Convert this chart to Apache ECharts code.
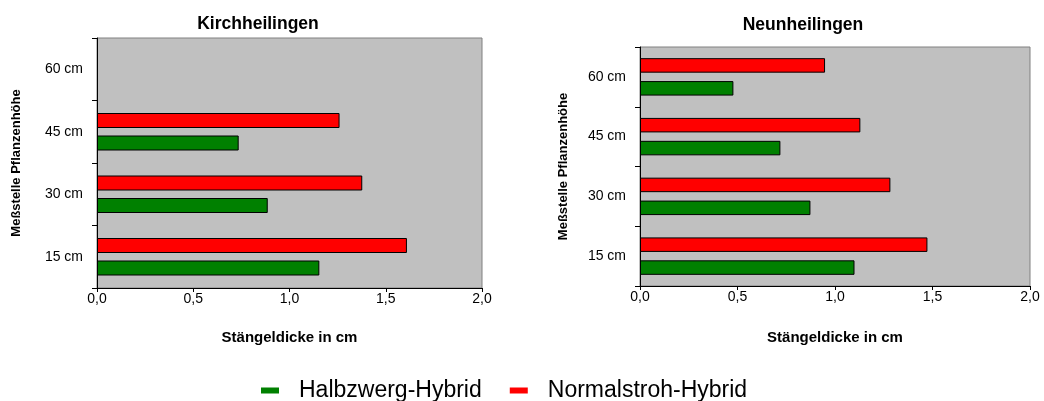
<!DOCTYPE html>
<html><head><meta charset="utf-8">
<script src="https://cdn.jsdelivr.net/npm/echarts@6/dist/echarts.min.js"></script>
<style>html,body{margin:0;padding:0;background:#fff}#c{width:1044px;height:401px}</style>
</head><body><div id="c"></div>
<script>
const categories = ['15 cm', '30 cm', '45 cm', '60 cm'];
const kirchHalb = [1.155, 0.887, 0.736, null];
const kirchNormal = [1.61, 1.378, 1.26, null];
const neunHalb = [1.10, 0.874, 0.72, 0.479];
const neunNormal = [1.474, 1.284, 1.13, 0.949];
const seriesNames = ['Halbzwerg-Hybrid', 'Normalstroh-Hybrid'];
const titles = ['Kirchheilingen', 'Neunheilingen'];
const xName = 'Stängeldicke in cm';
const yName = 'Meßstelle Pflanzenhöhe';

const FONT = '"Liberation Sans", Arial, sans-serif';
const GREEN = '#008000', RED = '#FF0000';
const chart = echarts.init(document.getElementById('c'));

function xAx(gi, gap) {
  return {
    type: 'value', gridIndex: gi, min: 0, max: 2, interval: 0.5,
    splitLine: { show: false },
    axisLine: { show: true, lineStyle: { color: '#000', width: 1 } },
    axisTick: { show: true, length: 4, lineStyle: { color: '#000' } },
    axisLabel: { color: '#000', fontSize: 14, fontFamily: FONT, margin: 4,
      formatter: v => v.toFixed(1).replace('.', ',') },
    name: xName, nameLocation: 'middle', nameGap: gap,
    nameTextStyle: { color: '#000', fontSize: 15, fontWeight: 'bold', fontFamily: FONT }
  };
}
function yAx(gi, gap) {
  return {
    type: 'category', gridIndex: gi, data: categories,
    axisLine: { show: true, lineStyle: { color: '#000', width: 1 } },
    axisTick: { show: true, length: 5, lineStyle: { color: '#000' } },
    axisLabel: { color: '#000', fontSize: 14, fontFamily: FONT, margin: 14 },
    name: yName, nameLocation: 'middle', nameGap: gap, nameRotate: 90,
    nameTextStyle: { color: '#000', fontSize: 13, fontWeight: 'bold', fontFamily: FONT }
  };
}
function bar(name, data, gi, color, bw, gap) {
  return {
    type: 'bar', name: name, data: data, xAxisIndex: gi, yAxisIndex: gi,
    barWidth: bw, barGap: gap,
    itemStyle: { color: color, borderColor: '#000', borderWidth: 1 }
  };
}

chart.setOption({
  animation: false,
  title: [
    { text: titles[0], left: 253, top: 10, textAlign: 'center',
      textStyle: { fontSize: 17.5, fontWeight: 'bold', color: '#000', fontFamily: FONT } },
    { text: titles[1], left: 798, top: 11, textAlign: 'center',
      textStyle: { fontSize: 17.5, fontWeight: 'bold', color: '#000', fontFamily: FONT } }
  ],
  legend: {
    data: seriesNames, left: 256, top: 374, itemWidth: 18, itemHeight: 6, itemGap: 28,
    icon: 'rect', itemStyle: { borderWidth: 0 },
    textStyle: { fontSize: 23, color: '#000', fontFamily: FONT, padding: [0, 0, 0, 15] }
  },
  grid: [
    { left: 97, top: 38, width: 385, height: 250, show: true, backgroundColor: '#C0C0C0', borderColor: '#808080', borderWidth: 1 },
    { left: 640, top: 47, width: 390, height: 239, show: true, backgroundColor: '#C0C0C0', borderColor: '#808080', borderWidth: 1 }
  ],
  xAxis: [xAx(0, 42), xAx(1, 44)],
  yAxis: [yAx(0, 74), yAx(1, 70)],
  series: [
    bar(seriesNames[1], kirchNormal, 0, RED, 15, '50%'),
    bar(seriesNames[0], kirchHalb, 0, GREEN, 15, '50%'),
    bar(seriesNames[1], neunNormal, 1, RED, 14.5, '58%'),
    bar(seriesNames[0], neunHalb, 1, GREEN, 14.5, '58%')
  ]
});
</script></body></html>
